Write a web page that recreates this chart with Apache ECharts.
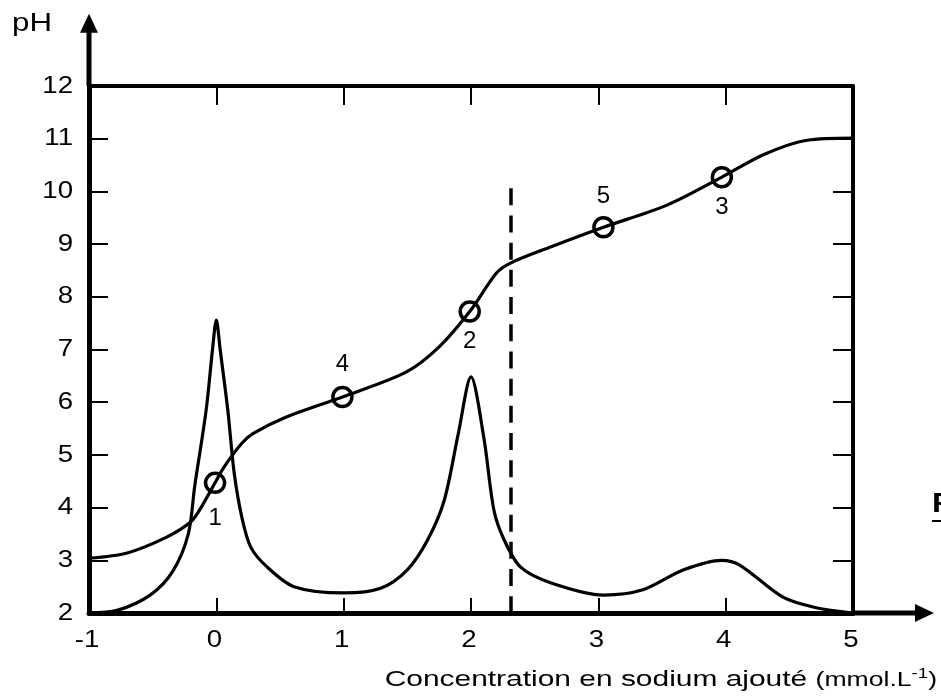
<!DOCTYPE html>
<html><head><meta charset="utf-8">
<script src="https://cdn.jsdelivr.net/npm/echarts@6/dist/echarts.min.js"></script>
<style>html,body{margin:0;padding:0;background:#fff}#c{width:941px;height:696px}</style>
</head><body><div id="c"></div>
<script>
// pH titration curve
const phX = [-1, -0.7, -0.39, -0.2, -0.12, -0.01, 0.055, 0.2, 0.29, 0.55, 0.99, 1.49, 1.75, 1.99, 2.2, 2.31, 2.63, 3.04, 3.54, 3.97, 4.3, 4.64, 5.0];
const phY = [3.04, 3.14, 3.44, 3.73, 4.0, 4.47, 4.75, 5.22, 5.41, 5.72, 6.1, 6.57, 7.05, 7.72, 8.45, 8.64, 8.95, 9.32, 9.74, 10.27, 10.7, 10.97, 11.01];
// peak curve
const pkX = [-1, -0.78, -0.52, -0.34, -0.22, -0.17, -0.08, -0.03, 0, 0.03, 0.09, 0.14, 0.2, 0.27, 0.4, 0.61, 1.0, 1.29, 1.5, 1.66, 1.79, 1.9, 2.0, 2.1, 2.18, 2.26, 2.39, 2.63, 3.04, 3.35, 3.67, 3.97, 4.11, 4.45, 4.71, 5.0];
const pkY = [2.0, 2.05, 2.34, 2.8, 3.5, 4.4, 5.85, 7.0, 7.56, 7.0, 5.85, 4.66, 3.82, 3.25, 2.87, 2.5, 2.38, 2.47, 2.82, 3.39, 4.14, 5.4, 6.48, 5.34, 3.95, 3.39, 2.87, 2.57, 2.34, 2.44, 2.82, 3.0, 2.91, 2.3, 2.1, 2.0];
// marked points
const ptX = [-0.01, 0.99, 1.99, 3.04, 3.97];
const ptY = [4.47, 6.1, 7.72, 9.32, 10.27];
const ptName = ['1', '4', '2', '5', '3'];
const ptPos = ['bottom', 'top', 'bottom', 'top', 'bottom'];
const ptLabelGap = [12, 9, 7, 8, 7];
// dashed line
const dashX = 2.31, dashYTop = 10.06, dashYBottom = 2;
// axes and tick labels
const xMin = -1, xMax = 5, yMin = 2, yMax = 12;
const xTickLabels = [-1, 0, 1, 2, 3, 4, 5];
const yTickLabels = [2, 3, 4, 5, 6, 7, 8, 9, 10, 11, 12];
const xArrowTip = 5.636, yArrowTip = 13.37;
const yTitle = 'pH';
const xTitle = 'Concentration en sodium ajouté ';
const xUnit = '(mmol.L', xUnitSup = '-1', xUnitEnd = ')';

const FONT = '"Liberation Sans", Arial, sans-serif';
const SX = 1.15; // horizontal stretch of the tick lettering in the reference
const chart = echarts.init(document.getElementById('c'));
function ax(pos, lineW, tickLen) {
  return {
    type: 'value', position: pos,
    axisLine: { onZero: false, lineStyle: { color: '#000', width: lineW } },
    axisTick: { inside: true, length: tickLen, lineStyle: { color: '#000', width: 2 } },
    splitLine: { show: false },
    axisLabel: { show: false }
  };
}
const option = {
  animation: false,
  backgroundColor: '#fff',
  grid: { left: 89, right: 88, top: 86, bottom: 83, containLabel: false, outerBoundsMode: 'none' },
  xAxis: [
    Object.assign(ax('bottom', 5, 15), { min: xMin, max: xMax, interval: 1 }),
    Object.assign(ax('top', 4, 19), { min: xMin, max: xMax, interval: 1 })
  ],
  yAxis: [
    Object.assign(ax('left', 5, 19), { min: yMin, max: yMax, interval: 1 }),
    Object.assign(ax('right', 4, 20), { min: yMin, max: yMax, interval: 1 })
  ],
  series: [
    { type: 'line', data: pkX.map((x, i) => [x, pkY[i]]), smooth: 0.3, showSymbol: false,
      lineStyle: { color: '#000', width: 3.2 }, z: 3,
      markLine: { silent: true, symbol: ['none', 'none'], label: { show: false },
        lineStyle: { color: '#000', width: 3.5, type: [17, 10.2] },
        data: [[{ coord: [dashX, dashYTop] }, { coord: [dashX, dashYBottom] }]] } },
    { type: 'line', data: phX.map((x, i) => [x, phY[i]]), smooth: 0.3, showSymbol: false,
      lineStyle: { color: '#000', width: 3.2 }, z: 3 },
    { type: 'scatter', symbol: 'circle', symbolSize: 19, z: 4,
      itemStyle: { color: 'rgba(0,0,0,0)', borderColor: '#000', borderWidth: 3.5, opacity: 1 },
      label: { show: true, color: '#000', fontSize: 24, fontFamily: FONT,
        formatter: p => ptName[p.dataIndex] },
      data: ptX.map((x, i) => ({ value: [x, ptY[i]], label: { position: ptPos[i], distance: ptLabelGap[i] } })) }
  ]
};
chart.setOption(option);

const px = (x, y) => chart.convertToPixel({ xAxisIndex: 0, yAxisIndex: 0 }, [x, y]);
const tl = px(xMin, yMax), tipY = px(xMin, yArrowTip);
const br = px(xMax, yMin), tipX = px(xArrowTip, yMin);
const textStyle = (t, fs, extra) => Object.assign({ text: t, fontSize: fs, fontFamily: FONT, fill: '#000' }, extra || {});
const g = [
  { type: 'line', shape: { x1: tl[0], y1: tl[1], x2: tl[0], y2: tipY[1] + 15 }, style: { stroke: '#000', lineWidth: 5 } },
  { type: 'polygon', shape: { points: [[tl[0] - 9, tipY[1] + 19], [tl[0], tipY[1]], [tl[0] + 9, tipY[1] + 19]] }, style: { fill: '#000' } },
  { type: 'line', shape: { x1: br[0], y1: br[1], x2: tipX[0] - 15, y2: br[1] }, style: { stroke: '#000', lineWidth: 5 } },
  { type: 'polygon', shape: { points: [[tipX[0] - 19, br[1] - 9], [tipX[0], br[1]], [tipX[0] - 19, br[1] + 9]] }, style: { fill: '#000' } },
  { type: 'text', x: 12, y: 24, scaleX: 1.25, style: textStyle(yTitle, 25, { textAlign: 'left', textVerticalAlign: 'middle' }) },
  { type: 'text', x: 937, y: 680, scaleX: 1.33, style: {
      text: '{a|' + xTitle + '}{b|' + xUnit + '}{s|' + xUnitSup + '}{b|' + xUnitEnd + '}',
      textAlign: 'right', textVerticalAlign: 'middle', fill: '#000', fontFamily: FONT,
      rich: {
        a: { fontSize: 22.5, fontFamily: FONT, lineHeight: 26, verticalAlign: 'middle', fill: '#000' },
        b: { fontSize: 20, fontFamily: FONT, lineHeight: 26, verticalAlign: 'middle', fill: '#000' },
        s: { fontSize: 14, fontFamily: FONT, lineHeight: 14, verticalAlign: 'top', fill: '#000' }
      } } },
  { type: 'text', x: 932, y: 505, scaleX: 1.2, style: textStyle('Figure', 27, { fontWeight: 'bold', textVerticalAlign: 'middle' }) },
  { type: 'line', shape: { x1: 932, y1: 521, x2: 1000, y2: 521 }, style: { stroke: '#000', lineWidth: 2 } }
];
yTickLabels.forEach(v => {
  const p = px(xMin, v);
  g.push({ type: 'text', x: 73, y: p[1], scaleX: SX, style: textStyle(String(v), 24, { textAlign: 'right', textVerticalAlign: 'middle' }) });
});
xTickLabels.forEach(v => {
  const p = px(v, yMin);
  g.push({ type: 'text', x: p[0] - 2, y: 640, scaleX: SX, style: textStyle(String(v), 24, { textAlign: 'center', textVerticalAlign: 'middle' }) });
});
chart.setOption({ graphic: g });
</script></body></html>
